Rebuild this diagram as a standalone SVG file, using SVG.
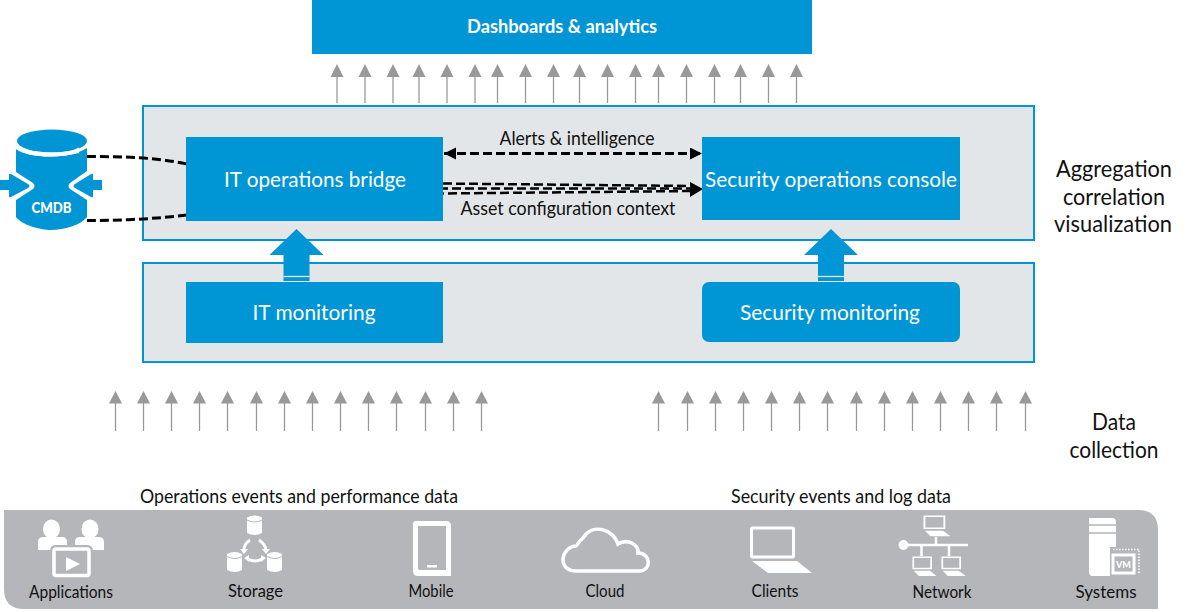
<svg xmlns="http://www.w3.org/2000/svg" width="1192" height="612" viewBox="0 0 1192 612">
<style>
text{font-family:"Lato","Open Sans","Liberation Sans",sans-serif;text-anchor:middle;fill:#111}
.w{fill:#fff}
.box{fill:#0096d6}
.panel{fill:#e2e6e8;stroke:#0096d6;stroke-width:2}
.b{font-size:21px}
.s{font-size:19px}
.l{font-size:17.500px}
.t{font-size:22.500px}
.dash{fill:none;stroke:#000;stroke-width:3;stroke-dasharray:9 4}
.thin{stroke-width:2.500}
.up{stroke:#999;stroke-width:1.300;fill:none}
.ic{fill:none;stroke:#fff;stroke-width:3.500}
.f{fill:#fff}
.cut{fill:none;stroke:#b4b6b9;stroke-width:1}
</style>
<defs>
<g id="up"><path class="up" d="M0 13V39"/><path d="M-6.500 13L0 0L6.500 13Z" fill="#999"/></g>
<g id="upl"><path class="up" d="M0 12V40"/><path d="M-6.500 12.500L0 0L6.500 12.500Z" fill="#999"/></g>
<g id="fat"><path d="M-13 26H-27L0 0L27 26H13V52H-13Z" class="box"/><path d="M-13 47.500H13" stroke="#e2e6e8" stroke-width="1.300"/></g>
<g id="lap"><path d="M1.500 1.500H22.500V16H1.500Z" fill="none" stroke="#fff" stroke-width="2"/><path d="M2 19H21L29 25.500H8Z" class="f"/></g>
<marker id="ah" markerWidth="15" markerHeight="14" refX="12" refY="6" orient="auto-start-reverse" markerUnits="userSpaceOnUse"><path d="M0 0L12 6L0 12Z" fill="#000"/></marker>
</defs>

<g id="dashboards"><rect class="box" x="312" y="0" width="500" height="54"/><text class="w" x="562" y="33" style="font-size:19px;font-weight:700" textLength="190" lengthAdjust="spacingAndGlyphs">Dashboards &amp; analytics</text></g>

<g id="aggregation-panel"><rect class="panel" x="143" y="106" width="891" height="134"/></g>
<g id="collection-panel"><rect class="panel" x="143" y="263" width="891" height="99"/></g>

<g id="connectors">
<g id="feed-top">
<use href="#up" x="337" y="64"/><use href="#up" x="365" y="64"/><use href="#up" x="393" y="64"/><use href="#up" x="419" y="64"/><use href="#up" x="447" y="64"/><use href="#up" x="475" y="64"/><use href="#up" x="497.500" y="64"/><use href="#up" x="525.500" y="64"/><use href="#up" x="553.500" y="64"/><use href="#up" x="579.500" y="64"/><use href="#up" x="607.500" y="64"/><use href="#up" x="635.500" y="64"/><use href="#up" x="658.500" y="64"/><use href="#up" x="686.500" y="64"/><use href="#up" x="714.500" y="64"/><use href="#up" x="740.500" y="64"/><use href="#up" x="768.500" y="64"/><use href="#up" x="796.500" y="64"/>
</g>
<g id="feed-ops">
<use href="#upl" x="115.500" y="391"/><use href="#upl" x="143.500" y="391"/><use href="#upl" x="171.500" y="391"/><use href="#upl" x="199.500" y="391"/><use href="#upl" x="227.500" y="391"/><use href="#upl" x="256.500" y="391"/><use href="#upl" x="284.500" y="391"/><use href="#upl" x="312.500" y="391"/><use href="#upl" x="340.500" y="391"/><use href="#upl" x="368.500" y="391"/><use href="#upl" x="396.500" y="391"/><use href="#upl" x="425.500" y="391"/><use href="#upl" x="453.500" y="391"/><use href="#upl" x="481.500" y="391"/>
</g>
<g id="feed-sec">
<use href="#upl" x="658.500" y="391"/><use href="#upl" x="687.500" y="391"/><use href="#upl" x="715.500" y="391"/><use href="#upl" x="743.500" y="391"/><use href="#upl" x="771.500" y="391"/><use href="#upl" x="799.500" y="391"/><use href="#upl" x="827.500" y="391"/><use href="#upl" x="856.500" y="391"/><use href="#upl" x="884.500" y="391"/><use href="#upl" x="912.500" y="391"/><use href="#upl" x="940.500" y="391"/><use href="#upl" x="968.500" y="391"/><use href="#upl" x="996.500" y="391"/><use href="#upl" x="1025.500" y="391"/>
</g>
<use href="#fat" x="296.500" y="229"/>
<use href="#fat" x="831" y="229"/>
<path class="dash" d="M87 156.500C120 156.500 155 157 187 164"/>
<path class="dash" d="M87 220.500C120 220.500 155 219 187 215"/>
<path class="dash" d="M444 153.500H702" marker-start="url(#ah)" marker-end="url(#ah)"/>
<path class="dash thin" d="M443 183.500L692 186"/>
<path class="dash thin" d="M443 188.500H692" stroke-dashoffset="4"/>
<path class="dash thin" d="M443 193.500L692 191" stroke-dashoffset="8"/>
<path d="M690 182L703 189L690 197Z" fill="#000"/>
</g>

<g id="it-ops-bridge"><rect class="box" x="186" y="137" width="257" height="84"/><text class="w b" x="315" y="187" textLength="182" lengthAdjust="spacingAndGlyphs">IT operations bridge</text></g>
<g id="sec-ops-console"><rect class="box" x="702" y="137" width="258" height="83"/><text class="w b" x="831" y="187" textLength="252" lengthAdjust="spacingAndGlyphs">Security operations console</text></g>
<g id="it-monitoring"><rect class="box" x="186" y="282" width="257" height="61"/><text class="w b" x="314" y="320" textLength="123" lengthAdjust="spacingAndGlyphs">IT monitoring</text></g>
<g id="sec-monitoring"><rect class="box" x="702" y="282" width="258" height="60" rx="7"/><text class="w b" x="830" y="320" textLength="180" lengthAdjust="spacingAndGlyphs">Security monitoring</text></g>

<text class="s" x="577" y="145" textLength="155" lengthAdjust="spacingAndGlyphs">Alerts &amp; intelligence</text>
<text class="s" x="568" y="215" textLength="215" lengthAdjust="spacingAndGlyphs">Asset configuration context</text>

<g id="cmdb">
<path class="box" d="M16 149V217C22 225 40 230 51 230C64 230 81 225 87 217V148C78 154 64 156.500 50 156.500C36 156.500 22 154 16 149Z"/>
<ellipse class="box" cx="52" cy="141" rx="35" ry="11.500"/>
<path d="M16 145C26 151 40 152.500 52 152.500C62 152.500 72 151.500 79 147.500V153C70 155.500 60 156.500 50 156.500C36 156.500 24 154 16 149Z" class="f"/>
<path d="M16 172L33 183Q36 186 33 189L16 200Z" class="f"/>
<path d="M87 171L70 183Q67 186 70 189L87 200Z" class="f"/>
<path d="M0 180H9V175Q9 173 11 174L28 184Q31 186 28 188L11 197Q9 198 9 196V190H0Z" class="box"/>
<path d="M102 180H93V175Q93 173 91 174L75 184Q72 186 75 188L91 197Q93 198 93 196V190H102Z" class="box"/>
<text class="w" x="51.500" y="213" style="font-size:15.500px;font-weight:900" textLength="40" lengthAdjust="spacingAndGlyphs">CMDB</text>
</g>

<text class="t" x="1114" y="177" textLength="116" lengthAdjust="spacingAndGlyphs">Aggregation</text>
<text class="t" x="1114" y="205" textLength="102" lengthAdjust="spacingAndGlyphs">correlation</text>
<text class="t" x="1113" y="232" textLength="118" lengthAdjust="spacingAndGlyphs">visualization</text>
<text class="t" x="1114" y="430" textLength="44" lengthAdjust="spacingAndGlyphs">Data</text>
<text class="t" x="1114" y="458" textLength="89" lengthAdjust="spacingAndGlyphs">collection</text>

<text class="s" x="299" y="503" textLength="318" lengthAdjust="spacingAndGlyphs">Operations events and performance data</text>
<text class="s" x="841" y="503" textLength="220" lengthAdjust="spacingAndGlyphs">Security events and log data</text>

<g id="sources">
<path d="M4 510H1138Q1158 510 1158 530V609H24Q4 609 4 589Z" fill="#b4b6b9"/>
<g id="applications">
<ellipse class="f" cx="51.500" cy="529" rx="8.500" ry="9.500"/><ellipse class="f" cx="90" cy="529" rx="8.500" ry="9.500"/>
<path class="f" d="M38 542Q38 537 44 537H62Q67 537 67 542V550H38Z"/><path class="f" d="M75 542Q75 537 80 537H98Q104 537 104 542V550H75Z"/>
<rect x="53.500" y="548.500" width="36" height="27" rx="2" fill="#b4b6b9" stroke="#b4b6b9" stroke-width="7"/>
<rect class="ic" x="54" y="549" width="35" height="26.500" rx="2"/>
<path class="f" d="M66 557L80 564L66 571Z"/>
<text class="l" x="71" y="598" textLength="84" lengthAdjust="spacingAndGlyphs">Applications</text>
</g>
<g id="storage">
<path class="f" d="M247 517.500Q254.500 513.500 262 517.500V533Q254.500 537 247 533Z"/><path class="cut" d="M247 520Q254.500 524 262 520"/>
<path class="f" d="M227 554Q234.500 550 242 554V570Q234.500 574 227 570Z"/><path class="cut" d="M227 556.500Q234.500 560.500 242 556.500"/>
<path class="f" d="M267 554Q274.500 550 282 554V570Q274.500 574 267 570Z"/><path class="cut" d="M267 556.500Q274.500 560.500 282 556.500"/>
<path d="M250 540Q244 544 244 550M259 540Q265 544 266 550M248 559Q255 563 262 559" fill="none" stroke="#fff" stroke-width="2.800"/>
<path class="f" d="M240 549L248 549L244 554ZM262 549L270 549L266 554ZM249 555L249 562L244 558ZM261 555L261 562L266 558Z"/>
<text class="l" x="255.500" y="597" textLength="55" lengthAdjust="spacingAndGlyphs">Storage</text>
</g>
<g id="mobile">
<path class="f" fill-rule="evenodd" d="M413 524Q413 521 416 521H446Q451 521 451 526V576H418Q413 576 413 571ZM418 526V568Q418 570 420 570H446V526Z"/>
<rect class="f" x="427" y="565" width="10" height="2.500"/>
<text class="l" x="431" y="597" textLength="45" lengthAdjust="spacingAndGlyphs">Mobile</text>
</g>
<g id="cloud">
<path class="ic" d="M576 571H639C652 571 651 553 638 553C639 545 628 538 618 544C614 530 593 522 583 538C578 542 577 546 576 546C570 546 563 552 563 560C563 567 569 571 576 571Z"/>
<text class="l" x="605" y="597" textLength="39" lengthAdjust="spacingAndGlyphs">Cloud</text>
</g>
<g id="clients">
<rect x="751.500" y="528" width="42" height="29" rx="1" fill="none" stroke="#fff" stroke-width="3"/>
<path class="f" d="M752 561H797L812 573H768Z"/>
<text class="l" x="775" y="597" textLength="47" lengthAdjust="spacingAndGlyphs">Clients</text>
</g>
<g id="network">
<circle class="f" cx="903.500" cy="545" r="5"/>
<path d="M904 545H968M936 545V537M921.500 545V556M949 545V556" stroke="#fff" stroke-width="2.500" fill="none"/>
<use href="#lap" transform="translate(923 515) scale(.95 .83)"/>
<use href="#lap" transform="translate(912 556) scale(.85 .78)"/>
<use href="#lap" transform="translate(941 556) scale(.85 .78)"/>
<text class="l" x="942" y="598" textLength="59" lengthAdjust="spacingAndGlyphs">Network</text>
</g>
<g id="systems">
<path class="f" d="M1089 518H1112Q1116 518 1116 522V547H1110V576H1093Q1089 576 1089 572Z"/>
<path d="M1089 525H1116M1089 533H1116" stroke="#b4b6b9" stroke-width="1.500"/>
<rect x="1113" y="555" width="21" height="18" fill="#b4b6b9" stroke="#fff" stroke-width="3"/>
<path d="M1113 549.500H1139V574" fill="none" stroke="#fff" stroke-width="1.500" stroke-dasharray="1.500 1.500"/>
<text x="1123.500" y="568" style="font-size:10px;font-weight:900;fill:#fff" textLength="15" lengthAdjust="spacingAndGlyphs">VM</text>
<text class="l" x="1106" y="598" textLength="61" lengthAdjust="spacingAndGlyphs">Systems</text>
</g>
</g>
</svg>
